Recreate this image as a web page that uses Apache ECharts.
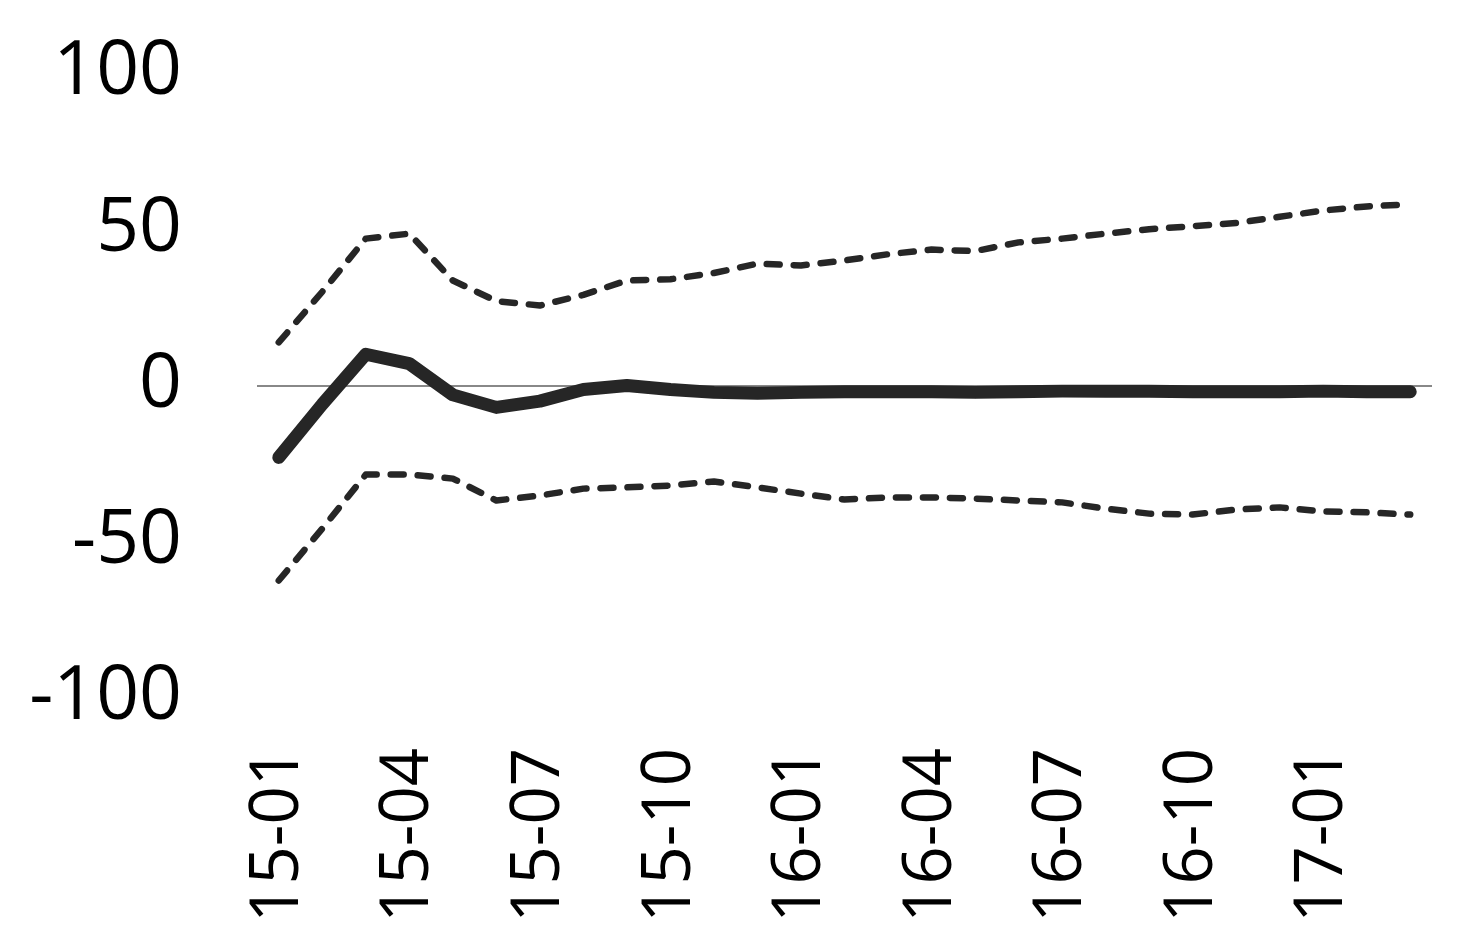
<!DOCTYPE html>
<html>
<head>
<meta charset="utf-8">
<script src="https://cdn.jsdelivr.net/npm/echarts@6/dist/echarts.min.js"></script>
<style>
html,body{margin:0;padding:0;background:#fff;}
#chart{width:1482px;height:947px;}
</style>
</head>
<body>
<div id="chart"></div>
<script>
const categories = ['15-01','15-02','15-03','15-04','15-05','15-06','15-07','15-08','15-09','15-10','15-11','15-12',
  '16-01','16-02','16-03','16-04','16-05','16-06','16-07','16-08','16-09','16-10','16-11','16-12',
  '17-01','17-02','17-03'];
const central = [-23, -6, 10, 7, -3, -7, -5, -1.3, 0, -1.3, -2.2, -2.5,
  -2.2, -2, -2, -2, -2.2, -2, -1.8, -1.8, -1.8, -2, -2, -2,
  -1.8, -2, -2];
const upper = [13.8, 30, 47, 48.6, 33.6, 27, 25.6, 29, 33.6, 34, 36, 39,
  38.4, 40, 42, 43.5, 43, 45.8, 47, 48.6, 50, 51, 52, 54,
  56, 57.3, 58];
const lower = [-62.4, -45.8, -28.5, -28.5, -29.8, -36.8, -35.2, -33, -32.6, -32, -30.7, -32.6,
  -34.6, -36.5, -35.8, -35.8, -36.2, -36.8, -37.4, -39.4, -41, -41.3, -39.7, -39,
  -40.3, -40.6, -41.3];
const yTicks = [-100, -50, 0, 50, 100];

const chart = echarts.init(document.getElementById('chart'));
const FONT = '"Open Sans", "Noto Sans", sans-serif';
chart.setOption({
  animation: false,
  backgroundColor: '#fff',
  grid: { left: 257, right: 50, top: 73, bottom: 249, containLabel: false },
  xAxis: {
    type: 'category',
    data: categories,
    boundaryGap: true,
    axisLine: { show: false },
    axisTick: { show: false },
    axisLabel: {
      interval: 2,
      rotate: 90,
      margin: 50,
      fontSize: 67,
      fontFamily: FONT,
      color: '#000'
    },
    splitLine: { show: false }
  },
  yAxis: {
    type: 'value',
    min: yTicks[0],
    max: yTicks[yTicks.length - 1],
    interval: 50,
    axisLine: { show: false },
    axisTick: { show: false },
    splitLine: { show: false },
    axisLabel: {
      margin: 75,
      fontSize: 75,
      fontFamily: FONT,
      color: '#000'
    }
  },
  series: [
    {
      type: 'line',
      data: upper,
      symbol: 'none',
      lineStyle: { color: '#262626', width: 6.5, type: [13, 14], cap: 'round', join: 'round' },
      z: 3
    },
    {
      type: 'line',
      data: lower,
      symbol: 'none',
      lineStyle: { color: '#262626', width: 6.5, type: [13, 14], cap: 'round', join: 'round' },
      z: 3
    },
    {
      type: 'line',
      data: central,
      symbol: 'none',
      lineStyle: { color: '#262626', width: 13, cap: 'round', join: 'round' },
      z: 4,
      markLine: {
        silent: true,
        symbol: 'none',
        label: { show: false },
        lineStyle: { color: '#888', width: 2, type: 'solid' },
        data: [{ yAxis: 0 }],
        z: 1
      }
    }
  ]
});
</script>
</body>
</html>
